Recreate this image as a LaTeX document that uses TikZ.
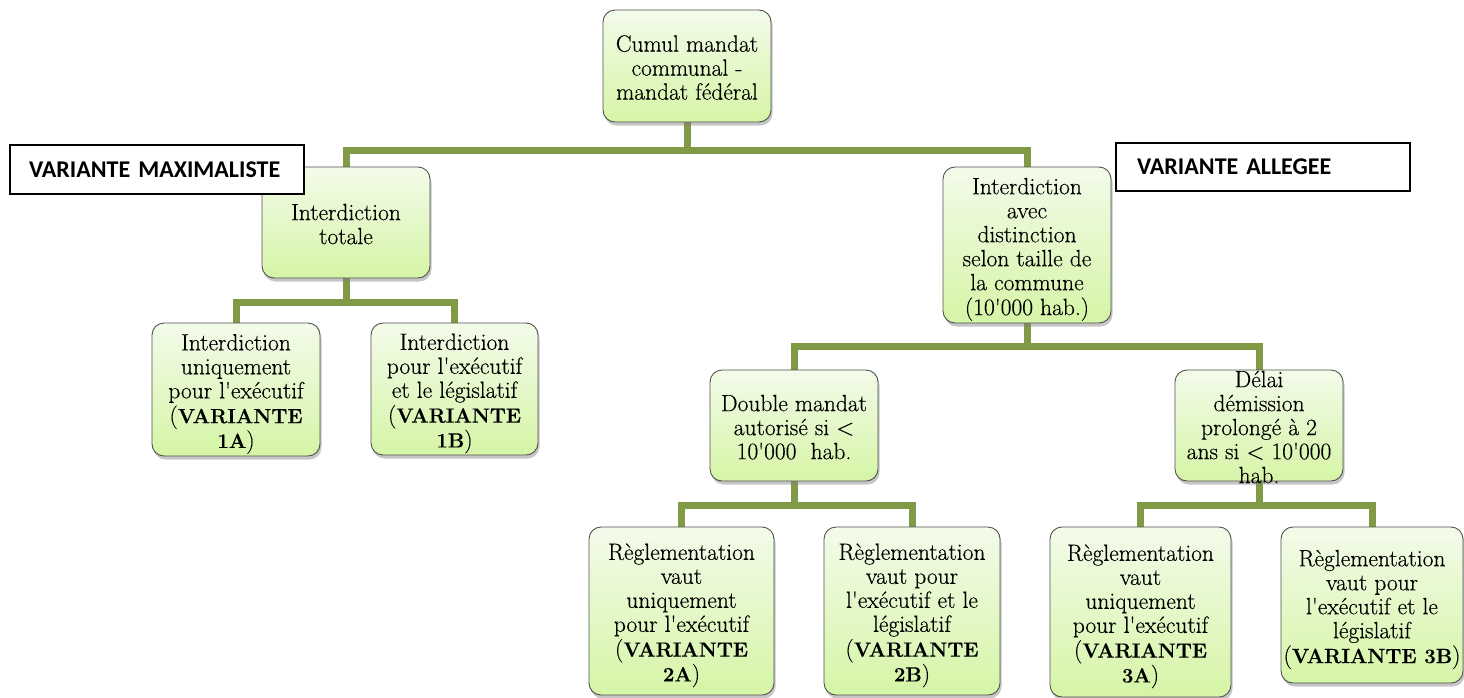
\documentclass[tikz,border=0pt]{standalone}
\usepackage{fontspec}
\newfontfamily\labfont{Carlito}
\newfontfamily\boxfont{Latin Modern Roman}[FakeBold=0.35]
\usetikzlibrary{shadows}
\definecolor{conncol}{RGB}{128,154,70}
\definecolor{gtop}{RGB}{243,251,234}
\definecolor{gbot}{RGB}{213,245,166}
\definecolor{bord}{RGB}{80,80,80}
\newcommand\ap{\textquotesingle}
\newcommand\B[1]{{\fontsize{20.5}{24}\selectfont\bfseries #1}}
\newcommand\Lines[1]{\smash{\raisebox{-0.47em}{\begin{tabular}{@{}c@{}}#1\end{tabular}}}}
\pgfdeclarelayer{bg}
\pgfsetlayers{bg,main}
\tikzset{
  box/.style={rounded corners=12pt, draw=bord, line width=0.9pt,
    top color=gtop, bottom color=gbot,
    drop shadow={opacity=0.45, shadow xshift=1.5pt, shadow yshift=-3.5pt},
    inner sep=0pt, font=\boxfont\fontsize{23.5}{24}\selectfont},
  lbl/.style={draw=black, line width=1.6pt, fill=white, inner ysep=0pt,
    font=\labfont\bfseries\fontsize{24}{26}\selectfont, align=left},
  conn/.style={draw=conncol, line width=7pt}
}
\begin{document}
\begin{tikzpicture}[x=1pt,y=-1pt]
\useasboundingbox (0,0) rectangle (1464,697);

\node[box, minimum width=168pt, minimum height=112pt] (root) at (687,66)
  {\Lines{Cumul mandat\\communal -\\mandat fédéral}};
\node[box, minimum width=168pt, minimum height=111pt] (tot) at (346,222.5)
  {\Lines{Interdiction\\totale}};
\node[box, minimum width=168pt, minimum height=156pt] (dist) at (1027,245)
  {\Lines{Interdiction\\avec\\distinction\\selon taille de\\la commune\\(10\ap000 hab.)}};
\node[box, minimum width=168pt, minimum height=133pt] (n1A) at (236,389.5)
  {\Lines{Interdiction\\uniquement\\pour l\ap exécutif\\(\B{VARIANTE}\\\B{1A})}};
\node[box, minimum width=167pt, minimum height=132pt] (n1B) at (454.5,389)
  {\Lines{Interdiction\\pour l\ap exécutif\\et le législatif\\(\B{VARIANTE}\\\B{1B})}};
\node[box, minimum width=168pt, minimum height=111pt] (dbl) at (794,425.5)
  {\Lines{Double mandat\\autorisé si <\\10\ap000\ \ hab.}};
\node[box, minimum width=168pt, minimum height=111pt] (del) at (1259,425.5)
  {\Lines{Délai\\démission\\prolongé à 2\\ans si < 10\ap000\\hab.}};
\node[box, minimum width=185pt, minimum height=168pt] (n2A) at (681.5,611)
  {\Lines{Règlementation\\vaut\\uniquement\\pour l\ap exécutif\\(\B{VARIANTE}\\\B{2A})}};
\node[box, minimum width=176pt, minimum height=168pt] (n2B) at (912,611)
  {\Lines{Règlementation\\vaut pour\\l\ap exécutif et le\\législatif\\(\B{VARIANTE}\\\B{2B})}};
\node[box, minimum width=181pt, minimum height=170pt] (n3A) at (1140.5,612)
  {\Lines{Règlementation\\vaut\\uniquement\\pour l\ap exécutif\\(\B{VARIANTE}\\\B{3A})}};
\node[box, minimum width=182pt, minimum height=156pt] (n3B) at (1372,605)
  {\Lines{Règlementation\\vaut pour\\l\ap exécutif et le\\législatif\\(\B{VARIANTE 3B})}};

\node[lbl, text width=256pt, inner xsep=19pt, minimum height=49pt] (lmax) at (157,169.5)
  {VARIANTE MAXIMALISTE};
\node[lbl, text width=252pt, inner xsep=21pt, minimum height=48pt] (lall) at (1263,167)
  {VARIANTE ALLEGEE};

\coordinate (j0) at (687,150);
\coordinate (j1) at (346,302);
\coordinate (j2) at (1027,346);
\coordinate (j3) at (794,505);
\coordinate (j4) at (1259,505);
\begin{pgfonlayer}{bg}
\draw[conn] (root.south) -- (j0);
\draw[conn] (tot.north) |- (j0) -| (dist.north);
\draw[conn] (tot.south) -- (j1);
\draw[conn] (n1A.north) |- (j1) -| (n1B.north);
\draw[conn] (dist.south) -- (j2);
\draw[conn] (dbl.north) |- (j2) -| (del.north);
\draw[conn] (dbl.south) -- (j3);
\draw[conn] (n2A.north) |- (j3) -| (n2B.north);
\draw[conn] (del.south) -- (j4);
\draw[conn] (n3A.north) |- (j4) -| (n3B.north);
\end{pgfonlayer}
\end{tikzpicture}
\end{document}
